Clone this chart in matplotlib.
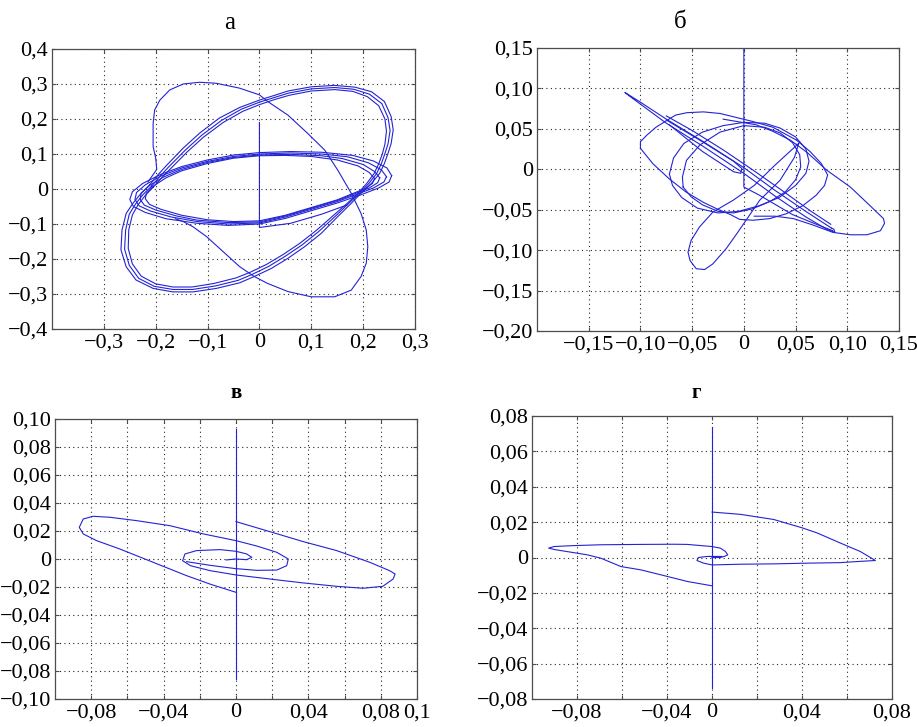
import matplotlib
matplotlib.use('Agg')
import matplotlib.pyplot as plt

plt.rcParams['font.family'] = 'serif'
plt.rcParams['font.serif'] = ['Liberation Serif', 'DejaVu Serif']

line_color = '#2323d6'

# ---------------- panel a ----------------
a_xticks = [-0.3, -0.2, -0.1, 0, 0.1, 0.2, 0.3]
a_xlabels = ['−0,3', '−0,2', '−0,1', '0', '0,1', '0,2', '0,3']
a_yticks = [-0.4, -0.3, -0.2, -0.1, 0, 0.1, 0.2, 0.3, 0.4]
a_ylabels = ['−0,4', '−0,3', '−0,2', '−0,1', '0', '0,1', '0,2', '0,3', '0,4']

a_start_x = [0.0, 0.0, 0.06, 0.12, 0.17]
a_start_y = [0.19, -0.11, -0.098, -0.072, -0.045]

a_band1_x = [0.255, 0.246, 0.22, 0.18, 0.12, 0.06, 0.0, -0.05, -0.1, -0.15, -0.19, -0.225, -0.245, -0.25,
             -0.243, -0.22, -0.18, -0.12, -0.06, 0.0, 0.05, 0.1, 0.15, 0.195, 0.23, 0.25, 0.255]
a_band1_y = [0.038, 0.06, 0.08, 0.096, 0.105, 0.107, 0.104, 0.097, 0.083, 0.064, 0.042, 0.016, -0.008, -0.03,
             -0.05, -0.067, -0.085, -0.098, -0.104, -0.1, -0.084, -0.062, -0.04, -0.017, 0.003, 0.02, 0.038]
a_band2_x = [0.245, 0.235, 0.21, 0.17, 0.12, 0.06, 0.0, -0.05, -0.1, -0.15, -0.19, -0.22, -0.237, -0.24,
             -0.232, -0.21, -0.17, -0.12, -0.06, 0.0, 0.05, 0.1, 0.15, 0.19, 0.22, 0.24, 0.245]
a_band2_y = [0.035, 0.055, 0.075, 0.092, 0.1, 0.103, 0.1, 0.093, 0.079, 0.06, 0.037, 0.012, -0.01, -0.03,
             -0.048, -0.063, -0.08, -0.093, -0.1, -0.097, -0.08, -0.058, -0.036, -0.014, 0.003, 0.02, 0.035]
a_band3_x = [0.232, 0.222, 0.2, 0.16, 0.12, 0.06, 0.0, -0.05, -0.1, -0.15, -0.185, -0.212, -0.228, -0.23,
             -0.222, -0.2, -0.16, -0.12, -0.06, 0.0, 0.05, 0.1, 0.15, 0.185, 0.212, 0.228, 0.232]
a_band3_y = [0.032, 0.05, 0.07, 0.087, 0.095, 0.099, 0.097, 0.09, 0.076, 0.056, 0.034, 0.01, -0.012, -0.03,
             -0.046, -0.06, -0.077, -0.089, -0.096, -0.094, -0.077, -0.055, -0.033, -0.013, 0.003, 0.018, 0.032]
a_band4_x = [0.222, 0.212, 0.19, 0.15, 0.1, 0.05, 0.0, -0.05, -0.1, -0.15, -0.18, -0.205, -0.218, -0.22,
             -0.212, -0.19, -0.15, -0.1, -0.05, 0.0, 0.05, 0.1, 0.15, 0.18, 0.205, 0.218, 0.222]
a_band4_y = [0.03, 0.047, 0.066, 0.083, 0.093, 0.096, 0.095, 0.088, 0.073, 0.052, 0.032, 0.008, -0.012, -0.028,
             -0.044, -0.058, -0.075, -0.088, -0.093, -0.091, -0.075, -0.053, -0.031, -0.013, 0.002, 0.016, 0.03]

a_big1_x = [-0.212, -0.196, -0.18, -0.147, -0.115, -0.077, -0.038, 0.0, 0.03, 0.055, 0.1, 0.145, 0.184, 0.216,
            0.241, 0.254, 0.258, 0.254, 0.248, 0.241, 0.232, 0.216, 0.196, 0.177, 0.151, 0.119, 0.087, 0.055,
            0.023, -0.01, -0.038, -0.083, -0.128, -0.167, -0.205, -0.238, -0.257, -0.267, -0.265, -0.257,
            -0.244, -0.228, -0.212]
a_big1_y = [0.011, 0.04, 0.066, 0.117, 0.16, 0.203, 0.233, 0.254, 0.268, 0.28, 0.292, 0.296, 0.291, 0.278,
            0.25, 0.207, 0.169, 0.13, 0.102, 0.073, 0.045, 0.016, -0.012, -0.041, -0.079, -0.127, -0.165, -0.198,
            -0.227, -0.25, -0.268, -0.284, -0.294, -0.294, -0.284, -0.26, -0.222, -0.174, -0.117, -0.07,
            -0.041, -0.012, 0.011]
a_big2_x = [-0.208, -0.192, -0.175, -0.143, -0.111, -0.073, -0.035, 0.0, 0.03, 0.056, 0.1, 0.145, 0.182, 0.212,
            0.236, 0.248, 0.252, 0.248, 0.242, 0.235, 0.226, 0.211, 0.193, 0.173, 0.147, 0.114, 0.082, 0.05,
            0.018, -0.014, -0.041, -0.085, -0.129, -0.167, -0.203, -0.233, -0.251, -0.26, -0.258, -0.251,
            -0.239, -0.224, -0.208]
a_big2_y = [0.008, 0.036, 0.063, 0.111, 0.154, 0.196, 0.228, 0.248, 0.262, 0.274, 0.286, 0.29, 0.285, 0.271,
            0.244, 0.204, 0.167, 0.129, 0.101, 0.072, 0.044, 0.016, -0.012, -0.04, -0.077, -0.122, -0.16, -0.192,
            -0.221, -0.244, -0.261, -0.277, -0.287, -0.287, -0.278, -0.255, -0.218, -0.172, -0.117, -0.072,
            -0.043, -0.015, 0.008]
a_big3_x = [-0.205, -0.188, -0.17, -0.14, -0.108, -0.07, -0.032, 0.0, 0.03, 0.058, 0.1, 0.145, 0.18, 0.208,
            0.23, 0.242, 0.245, 0.242, 0.237, 0.23, 0.221, 0.207, 0.19, 0.17, 0.143, 0.11, 0.078, 0.046,
            0.013, -0.018, -0.045, -0.088, -0.13, -0.167, -0.2, -0.228, -0.245, -0.253, -0.252, -0.245,
            -0.234, -0.22, -0.205]
a_big3_y = [0.005, 0.033, 0.06, 0.105, 0.148, 0.19, 0.222, 0.241, 0.256, 0.268, 0.28, 0.284, 0.279, 0.264,
            0.238, 0.2, 0.165, 0.128, 0.1, 0.072, 0.044, 0.016, -0.012, -0.04, -0.075, -0.118, -0.155, -0.187,
            -0.216, -0.238, -0.254, -0.27, -0.28, -0.28, -0.271, -0.249, -0.214, -0.17, -0.117, -0.074,
            -0.045, -0.018, 0.005]

a_cross_x = [-0.215, -0.198, -0.2, -0.205, -0.205, -0.202, -0.192, -0.173, -0.147, -0.115, -0.083, -0.038,
             0.0, 0.016, 0.055, 0.093, 0.126, 0.151, 0.177, 0.196, 0.206, 0.209, 0.206, 0.196, 0.177, 0.145,
             0.1, 0.055, 0.016, -0.01, -0.038, -0.07, -0.102, -0.128, -0.147, -0.162]
a_cross_y = [0.02, 0.056, 0.088, 0.121, 0.188, 0.226, 0.254, 0.283, 0.3, 0.305, 0.302, 0.288,
             0.269, 0.25, 0.211, 0.159, 0.111, 0.054, -0.012, -0.07, -0.117, -0.165, -0.212, -0.25, -0.289,
             -0.308, -0.308, -0.293, -0.27, -0.25, -0.222, -0.179, -0.136, -0.108, -0.093, -0.085]

# ---------------- panel b ----------------
b_xticks = [-0.15, -0.1, -0.05, 0, 0.05, 0.1, 0.15]
b_xlabels = ['−0,15', '−0,10', '−0,05', '0', '0,05', '0,10', '0,15']
b_yticks = [-0.2, -0.15, -0.1, -0.05, 0, 0.05, 0.1, 0.15]
b_ylabels = ['−0,20', '−0,15', '−0,10', '−0,05', '0', '0,05', '0,10', '0,15']

b_start_x = [0.0, 0.0, 0.015, 0.047, 0.07, 0.086]
b_start_y = [0.15, -0.022, -0.032, -0.056, -0.068, -0.076]

b_spike_x = [0.085, 0.061, 0.03, 0.0, -0.039, -0.075, -0.1, -0.115, -0.11, -0.075, -0.039, 0.0, 0.03, 0.06,
             0.08, 0.088, 0.087, 0.085]
b_spike_y = [-0.073, -0.053, -0.026, 0.002, 0.034, 0.062, 0.083, 0.095, 0.09, 0.057, 0.028, -0.005, -0.033,
             -0.059, -0.074, -0.078, -0.074, -0.073]
b_diag_x = [-0.075, -0.05, -0.02, 0.01, 0.04, 0.065, 0.084]
b_diag_y = [0.066, 0.048, 0.024, -0.002, -0.029, -0.052, -0.068]
b_inner_x = [-0.075, -0.04, -0.01, -0.002, -0.003, -0.01, -0.04, -0.072]
b_inner_y = [0.061, 0.034, 0.01, 0.001, -0.005, -0.003, 0.022, 0.055]

b_loop1_x = [-0.1, -0.1, -0.094, -0.085, -0.075, -0.066, -0.055, -0.039, -0.023, -0.007, 0.009, 0.028, 0.051,
             0.064, 0.075, 0.081, 0.078, 0.07, 0.057, 0.041, 0.025, 0.009, -0.004, -0.013, -0.026, -0.039,
             -0.056, -0.072, -0.088, -0.1]
b_loop1_y = [0.026, 0.034, 0.042, 0.052, 0.06, 0.067, 0.07, 0.071, 0.069, 0.064, 0.059, 0.052, 0.036,
             0.022, 0.007, -0.007, -0.02, -0.032, -0.045, -0.055, -0.061, -0.063, -0.062, -0.056, -0.049, -0.041,
             -0.028, -0.012, 0.007, 0.026]
b_loop2_x = [-0.072, -0.068, -0.058, -0.04, -0.02, 0.0, 0.02, 0.035, 0.05, 0.06, 0.063, 0.06, 0.05, 0.034,
             0.015, -0.005, -0.025, -0.045, -0.06, -0.069, -0.072]
b_loop2_y = [-0.006, 0.014, 0.032, 0.046, 0.054, 0.058, 0.057, 0.051, 0.04, 0.025, 0.01, -0.005, -0.02, -0.035,
             -0.045, -0.052, -0.054, -0.048, -0.035, -0.02, -0.006]
b_loop3_x = [-0.0587, -0.0594, -0.0555, -0.0426, -0.023, 0.0, 0.02, 0.035, 0.047, 0.054, 0.055, 0.05, 0.04,
             0.025, 0.008, -0.01, -0.025, -0.04, -0.051, -0.0587]
b_loop3_y = [-0.022, -0.0095, 0.011, 0.03, 0.046, 0.054, 0.052, 0.045, 0.033, 0.018, 0.003, -0.013, -0.028,
             -0.04, -0.049, -0.054, -0.052, -0.044, -0.034, -0.022]
b_tongue_x = [0.053, 0.03, 0.01, -0.01, -0.03, -0.043, -0.051, -0.054, -0.052, -0.046, -0.038, -0.03, -0.017,
              -0.007, 0.0, 0.0155, 0.035, 0.049, 0.053]
b_tongue_y = [0.032, 0.005, -0.02, -0.038, -0.053, -0.0715, -0.088, -0.1025, -0.113, -0.123, -0.124, -0.117,
              -0.098, -0.08, -0.067, -0.038, -0.0136, 0.015, 0.032]
b_right_x = [-0.02, 0.012, 0.028, 0.045, 0.061, 0.08, 0.103, 0.122, 0.135, 0.136, 0.132, 0.119, 0.103, 0.086,
             0.067, 0.048, 0.03, 0.01]
b_right_y = [0.062, 0.055, 0.047, 0.036, 0.021, -0.001, -0.022, -0.045, -0.061, -0.067, -0.076, -0.081,
             -0.081, -0.078, -0.069, -0.061, -0.058, -0.058]

# ---------------- panel в ----------------
c_xticks = [-0.08, -0.06, -0.04, -0.02, 0, 0.02, 0.04, 0.06, 0.08, 0.1]
c_xlabels = ['−0,08', '', '−0,04', '', '0', '', '0,04', '', '0,08', '0,1']
c_yticks = [-0.1, -0.08, -0.06, -0.04, -0.02, 0, 0.02, 0.04, 0.06, 0.08, 0.1]
c_ylabels = ['−0,10', '−0,08', '−0,06', '−0,04', '−0,02', '0', '0,02', '0,04', '0,06', '0,08', '0,10']

c_vert_x = [0.0, 0.0]
c_vert_y = [0.093, -0.086]

c_right_x = [0.0, 0.0188, 0.0372, 0.0556, 0.074, 0.0848, 0.0879, 0.0868, 0.0811, 0.0701, 0.0556, 0.0372,
             0.0188, 0.0, -0.0144, -0.0251, -0.0295, -0.0282, -0.0218, -0.0088, 0.0, 0.0059, 0.0087, 0.0059,
             0.0, -0.0055]
c_right_y = [0.0267, 0.0195, 0.0124, 0.006, -0.0024, -0.0083, -0.0107, -0.0143, -0.0195, -0.0209, -0.0195,
             -0.0171, -0.0143, -0.0114, -0.0083, -0.0048, -0.0012, 0.0036, 0.006, 0.0067, 0.0055, 0.0036,
             0.0012, -0.0005, 0.0, -0.0007]
c_left_x = [0.0, -0.0144, -0.0273, -0.0457, -0.0641, -0.077, -0.0844, -0.0866, -0.0844, -0.0789, -0.0697,
            -0.0549, -0.0365, -0.018, 0.0, 0.0114, 0.0225, 0.0289, 0.028, 0.0225, 0.0114, 0.0, -0.0144, -0.0273]
c_left_y = [-0.0238, -0.0179, -0.0119, -0.0024, 0.0071, 0.0131, 0.0179, 0.0226, 0.0286, 0.0305, 0.0298,
            0.0274, 0.0238, 0.0179, 0.0131, 0.0093, 0.0048, 0.0, -0.0048, -0.0079, -0.0081, -0.0069, -0.0045,
            -0.0019]

# ---------------- panel г ----------------
d_xticks = [-0.06, -0.04, -0.02, 0, 0.02, 0.04, 0.06, 0.08]
d_xlabels = ['−0,08', '', '−0,04', '0', '', '0,04', '', '0,08']
d_yticks = [-0.08, -0.06, -0.04, -0.02, 0, 0.02, 0.04, 0.06, 0.08]
d_ylabels = ['−0,08', '−0,06', '−0,04', '−0,02', '0', '0,02', '0,04', '0,06', '0,08']

d_vert_x = [0.0, 0.0]
d_vert_y = [0.074, -0.074]

d_right_x = [0.0, 0.0126, 0.0274, 0.04, 0.0467, 0.057, 0.0659, 0.0726, 0.0644, 0.057, 0.0422, 0.0274, 0.0126,
             0.0, -0.0037, -0.0067, -0.006, -0.0022, 0.0, 0.0044]
d_right_y = [0.0257, 0.0244, 0.0215, 0.0168, 0.0139, 0.0082, 0.0034, -0.0017, -0.0023, -0.0029, -0.0032,
             -0.0036, -0.0038, -0.0042, -0.0032, -0.0017, 0.0, 0.0006, 0.0006, 0.0006]
d_left_x = [0.0, 0.0037, 0.0059, 0.007, 0.0059, 0.0037, 0.0, -0.011, -0.0168, -0.032, -0.0494, -0.062,
            -0.0702, -0.0726, -0.0700, -0.0554, -0.0494, -0.0405, -0.0316, -0.0227, -0.0108, 0.0]
d_left_y = [0.0, 0.0, 0.0008, 0.0015, 0.0035, 0.0053, 0.0062, 0.0074, 0.0075, 0.0074, 0.0072, 0.0067,
            0.0062, 0.0053, 0.0045, 0.0015, -0.0004, -0.0051, -0.007, -0.0098, -0.0136, -0.016]


def setup(ax, xlim, ylim, xticks, xlabels, yticks, ylabels):
    ax.set_xlim(xlim)
    ax.set_ylim(ylim)
    ax.set_xticks(xticks)
    ax.set_xticklabels(xlabels)
    ax.set_yticks(yticks)
    ax.set_yticklabels(ylabels)
    ax.grid(True, color='0.15', linestyle=(0, (1, 3)), linewidth=0.8)
    ax.tick_params(direction='in', length=3, top=True, right=True, labelsize=16, pad=3, color='0.3')
    for s in ax.spines.values():
        s.set_linewidth(0.9)
        s.set_color('0.3')


def draw(ax, xs, ys):
    ax.plot(xs, ys, color=line_color, linewidth=0.8)


W, H = 917, 727
fig = plt.figure(figsize=(W / 100, H / 100), dpi=100)

ax_a = fig.add_axes([52 / W, 1 - 329 / H, 363 / W, 280 / H])
ax_b = fig.add_axes([537 / W, 1 - 331 / H, 362 / W, 283 / H])
ax_c = fig.add_axes([55 / W, 1 - 699 / H, 362 / W, 280 / H])
ax_d = fig.add_axes([532 / W, 1 - 699 / H, 360 / W, 283 / H])

setup(ax_a, (-0.4, 0.3), (-0.4, 0.4), a_xticks, a_xlabels, a_yticks, a_ylabels)
for xs, ys in [(a_band1_x, a_band1_y), (a_band2_x, a_band2_y), (a_band3_x, a_band3_y),
               (a_band4_x, a_band4_y), (a_big1_x, a_big1_y), (a_big2_x, a_big2_y),
               (a_big3_x, a_big3_y), (a_cross_x, a_cross_y), (a_start_x, a_start_y)]:
    draw(ax_a, xs, ys)

setup(ax_b, (-0.2, 0.15), (-0.2, 0.15), b_xticks, b_xlabels, b_yticks, b_ylabels)
for xs, ys in [(b_spike_x, b_spike_y), (b_diag_x, b_diag_y), (b_inner_x, b_inner_y),
               (b_loop1_x, b_loop1_y), (b_loop2_x, b_loop2_y), (b_loop3_x, b_loop3_y),
               (b_tongue_x, b_tongue_y), (b_right_x, b_right_y), (b_start_x, b_start_y)]:
    draw(ax_b, xs, ys)

setup(ax_c, (-0.1, 0.1), (-0.1, 0.1), c_xticks, c_xlabels, c_yticks, c_ylabels)
for xs, ys in [(c_vert_x, c_vert_y), (c_right_x, c_right_y), (c_left_x, c_left_y)]:
    draw(ax_c, xs, ys)

setup(ax_d, (-0.08, 0.08), (-0.08, 0.08), d_xticks, d_xlabels, d_yticks, d_ylabels)
for xs, ys in [(d_vert_x, d_vert_y), (d_right_x, d_right_y), (d_left_x, d_left_y)]:
    draw(ax_d, xs, ys)

fig.text(230 / W, 1 - 23 / H, 'а', ha='center', va='center', fontsize=18)
fig.text(680 / W, 1 - 22 / H, 'б', ha='center', va='center', fontsize=18)
fig.text(236 / W, 1 - 393 / H, 'в', ha='center', va='center', fontsize=15, fontweight='bold')
fig.text(696 / W, 1 - 393 / H, 'г', ha='center', va='center', fontsize=15, fontweight='bold')

fig.savefig('out.png', dpi=100)
